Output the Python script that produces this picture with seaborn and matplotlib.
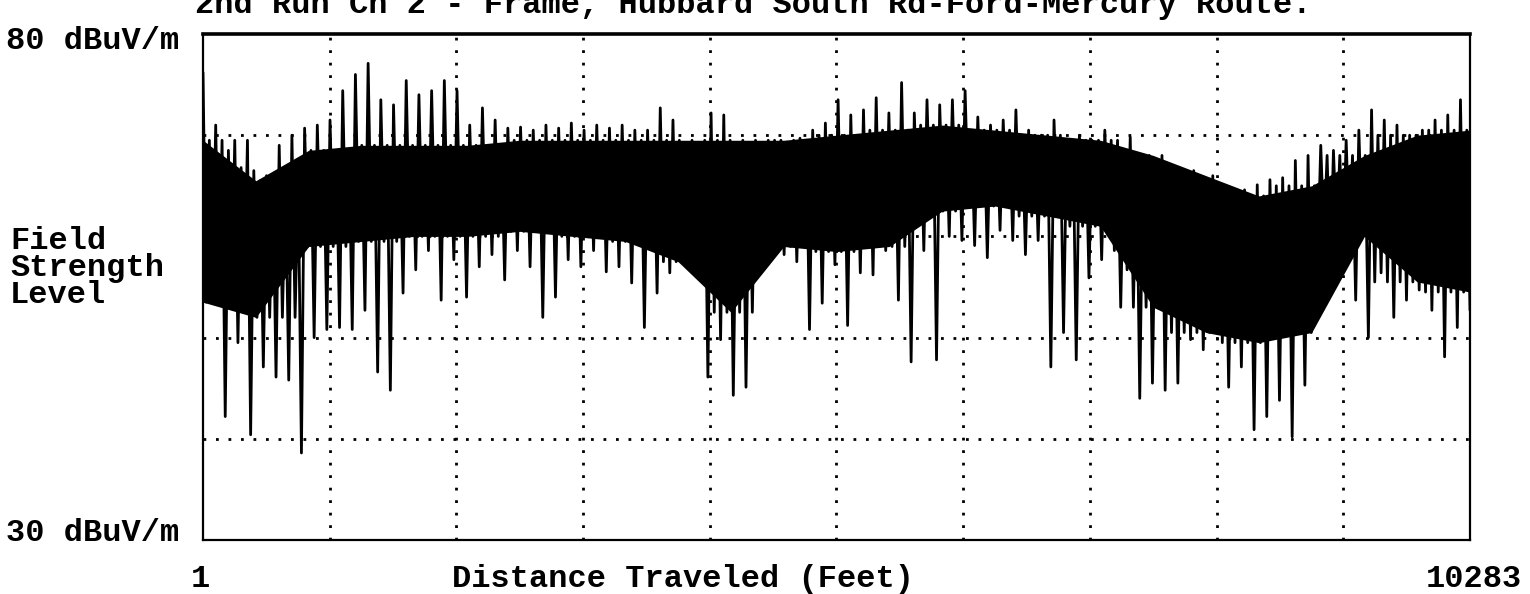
import numpy as np
import pandas as pd
import seaborn as sns
import matplotlib.pyplot as plt

# field strength readings (dBuV/m)
# spike tops / spike bottoms, 100 slots along the route
peak_db = [76.2, 71.0, 68.5, 66.8, 66.5, 66.0, 69.0, 70.0, 70.7, 71.0,
           71.5, 74.4, 76.0, 77.1, 73.5, 73.0, 75.4, 74.0, 74.4, 75.4,
           74.4, 71.0, 72.7, 71.5, 70.7, 70.8, 70.5, 71.0, 70.7, 71.2,
           70.5, 71.0, 70.7, 71.0, 70.5, 70.5, 72.7, 71.5, 67.0, 65.6,
           72.2, 72.0, 67.0, 68.5, 69.0, 69.5, 69.3, 69.7, 70.5, 71.2,
           73.5, 72.0, 72.5, 73.7, 72.2, 75.2, 72.2, 73.5, 73.0, 73.5,
           74.4, 71.8, 71.0, 71.5, 72.5, 70.5, 70.0, 71.5, 69.5, 70.0,
           69.5, 70.5, 69.5, 69.8, 67.0, 66.5, 67.0, 66.0, 66.5, 65.6,
           64.6, 64.1, 64.6, 65.1, 65.6, 65.8, 67.5, 68.0, 69.0, 68.5,
           69.5, 70.5, 72.5, 71.5, 71.0, 70.0, 70.5, 71.5, 72.0, 73.5]
dip_db = [54.4, 42.2, 49.5, 40.4, 47.1, 46.1, 45.8, 38.6, 50.0, 50.8,
          51.0, 50.8, 52.7, 46.6, 44.8, 54.4, 56.7, 58.6, 53.7, 57.7,
          54.0, 57.0, 58.2, 55.7, 58.6, 57.0, 52.0, 54.0, 57.7, 57.0,
          58.6, 56.5, 57.0, 55.4, 51.0, 54.4, 56.4, 58.2, 57.7, 46.1,
          49.8, 44.3, 45.1, 57.7, 58.6, 58.2, 57.5, 50.8, 53.4, 57.2,
          51.2, 56.4, 56.2, 58.6, 53.7, 47.6, 58.6, 47.8, 60.0, 59.6,
          59.1, 57.9, 60.6, 59.6, 58.2, 59.6, 47.1, 50.5, 47.8, 55.9,
          57.7, 58.6, 56.7, 44.0, 45.5, 44.8, 45.5, 49.8, 48.8, 50.8,
          45.1, 47.1, 40.9, 42.2, 43.8, 40.2, 45.3, 57.7, 56.4, 58.2,
          53.7, 50.0, 56.4, 52.0, 53.7, 54.7, 52.7, 48.1, 51.0, 52.7]

# dense part of the trace (top / bottom), 25 slots
core_top_db = [69.5, 65.5, 68.5, 69.0, 69.0, 69.0, 69.5, 69.5, 69.5, 69.5,
               69.5, 69.5, 70.0, 70.5, 71.0, 70.5, 70.0, 69.5, 68.0, 66.0,
               64.0, 65.0, 68.0, 70.0, 70.5]
core_bot_db = [53.5, 52.0, 59.0, 59.5, 60.0, 60.0, 60.5, 60.0, 59.5, 57.5,
               52.5, 59.0, 58.5, 59.0, 62.5, 63.0, 62.0, 61.0, 53.0, 50.5,
               49.5, 50.5, 60.0, 55.5, 54.5]

dist_min, dist_max = 1, 10283
y_min, y_max = 30, 80
grid_db = [40, 50, 60, 70]

title = "2nd Run Ch 2 - Frame, Hubbard South Rd-Ford-Mercury Route."

# build trace: each slot goes peak -> core bottom -> core top -> dip
n = len(peak_db)
per_core = n // len(core_top_db)
level = []
for i in range(n):
    c = i // per_core
    level += [peak_db[i], core_bot_db[c], core_top_db[c], dip_db[i]]
trace = pd.DataFrame({"dist": np.linspace(dist_min, dist_max, len(level)),
                      "level": level})
core = pd.DataFrame({"dist": np.linspace(dist_min, dist_max, len(core_top_db)),
                     "top": core_top_db, "bot": core_bot_db})

sns.set_style("white")
mono = ["Liberation Mono", "DejaVu Sans Mono"]
plt.rcParams["font.family"] = mono

W, H = 1530, 594
fig = plt.figure(figsize=(W / 100, H / 100), dpi=100)
ax = fig.add_axes([203 / W, 1 - 540 / H, (1470 - 203) / W, (540 - 34) / H])

# dotted grid
for g in grid_db:
    ax.axhline(g, color="black", lw=2, ls=(0, (1, 3.5)), zorder=1)
for k in range(1, 10):
    ax.axvline(dist_min + k * (dist_max - dist_min) / 10, color="black",
               lw=2, ls=(0, (1, 3.5)), zorder=1)

ax.fill_between(core["dist"], core["bot"], core["top"], color="black",
                lw=0, zorder=2)
sns.lineplot(data=trace, x="dist", y="level", color="black", linewidth=2.0,
             estimator=None, sort=False, ax=ax, zorder=3)

ax.set_xlim(dist_min, dist_max)
ax.set_ylim(y_min, y_max)
ax.set_xticks([])
ax.set_yticks([])
ax.set_xlabel("")
ax.set_ylabel("")
for s in ax.spines.values():
    s.set_color("black")
    s.set_linewidth(1.6)
ax.spines["top"].set_linewidth(2.6)

txt = dict(fontsize=23, fontweight="bold", color="black", family=mono)
fig.text(195 / W, 1 - 13 / H, title, ha="left", va="baseline", **txt)
fig.text(6 / W, 1 - 49 / H, "80 dBuV/m", ha="left", va="baseline", **txt)
fig.text(6 / W, 1 - 541 / H, "30 dBuV/m", ha="left", va="baseline", **txt)
fig.text(10 / W, 1 - 226 / H, "Field\nStrength\nLevel", ha="left", va="top",
         linespacing=0.88, **txt)
fig.text(200 / W, 1 - 587 / H, "1", ha="center", va="baseline", **txt)
fig.text(1474 / W, 1 - 587 / H, "10283", ha="center", va="baseline", **txt)
fig.text(683 / W, 1 - 587 / H, "Distance Traveled (Feet)", ha="center",
         va="baseline", **txt)

fig.savefig("out.png", dpi=100)
